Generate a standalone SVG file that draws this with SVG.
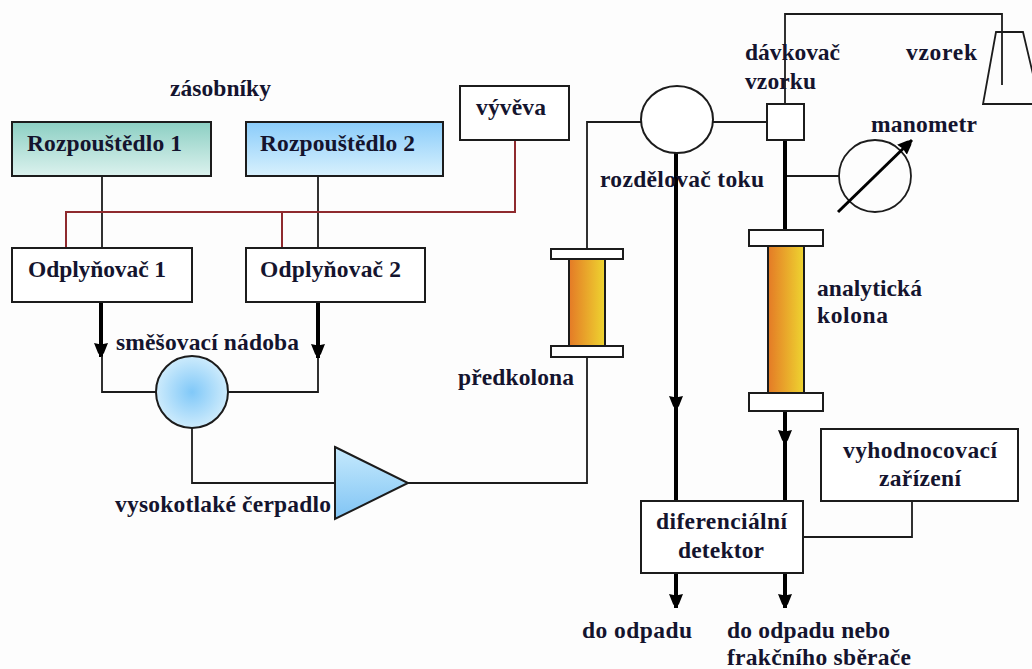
<svg xmlns="http://www.w3.org/2000/svg" width="1032" height="669" viewBox="0 0 1032 669">
<style>
.n{fill:#fff;stroke:#1c1c1c;stroke-width:2}
.c{fill:none;stroke:#1c1c1c;stroke-width:1.8}
.t{fill:none;stroke:#000;stroke-width:4}
.r{fill:none;stroke:#8f2a2e;stroke-width:2}
text{font-family:"Liberation Serif","Times New Roman",serif;font-weight:700;font-size:23.500px;fill:#14142e}
</style>
<defs>
<linearGradient id="g1" x1="0" y1="0" x2="0" y2="1"><stop offset="0" stop-color="#8ccfc3"/><stop offset="1" stop-color="#dcf2ee"/></linearGradient>
<linearGradient id="g2" x1="0" y1="0" x2="0" y2="1"><stop offset="0" stop-color="#8accfa"/><stop offset="1" stop-color="#d8f1fd"/></linearGradient>
<radialGradient id="g3"><stop offset="0" stop-color="#80c8f8"/><stop offset="1" stop-color="#cdebfc"/></radialGradient>
<linearGradient id="g4" x1="0" y1="0" x2="0" y2="1"><stop offset="0" stop-color="#c6eafd"/><stop offset="1" stop-color="#80c4f4"/></linearGradient>
<linearGradient id="g5" x1="0" y1="0" x2="1" y2="0"><stop offset="0" stop-color="#e47a26"/><stop offset="1" stop-color="#eed530"/></linearGradient>
<marker id="a" markerUnits="userSpaceOnUse" markerWidth="16" markerHeight="16" refX="14" refY="7" orient="auto"><path d="M0 0L1.500 7L0 14L10 10L14 7L10 4Z" fill="#000"/></marker>
</defs>
<rect width="1032" height="669" fill="#fdfdfd"/>
<g id="connectors">
<path class="c" d="M102 176V248M318 176V248"/>
<path class="r" d="M66 248V212H515V140M282 248V212"/>
<path class="t" marker-end="url(#a)" d="M101 302V357"/>
<path class="t" marker-end="url(#a)" d="M318 302V358"/>
<path class="c" d="M102 356V392H156M318 358V392H228M192 428V483H335M408 483H587V357M587 249V122H641M713 122H767"/>
<path class="c" d="M785 104V14H1002V85M785 176H839M912 501V537H803"/>
<path class="t" marker-end="url(#a)" d="M676 153V410"/>
<path class="t" d="M676 405V501M785 140V230"/>
<path class="t" marker-end="url(#a)" d="M785 411V444"/>
<path class="t" d="M785 440V501"/>
<path class="t" marker-end="url(#a)" d="M676 573V608"/>
<path class="t" marker-end="url(#a)" d="M785 573V608"/>
</g>
<g id="label-zasobniky"><text x="170" y="96" textLength="101">zásobníky</text></g>
<g id="rozpoustedlo1"><rect class="n" x="12" y="122" width="199" height="54" style="fill:url(#g1)"/><text x="27" y="151" textLength="155">Rozpouštědlo 1</text></g>
<g id="rozpoustedlo2"><rect class="n" x="246" y="122" width="197" height="54" style="fill:url(#g2)"/><text x="260" y="151" textLength="155">Rozpouštědlo 2</text></g>
<g id="vyveva"><rect class="n" x="460" y="86" width="109" height="54"/><text x="476" y="115" textLength="70">vývěva</text></g>
<g id="odplynovac1"><rect class="n" x="12" y="248" width="180" height="54"/><text x="28" y="277" textLength="138">Odplyňovač 1</text></g>
<g id="odplynovac2"><rect class="n" x="246" y="248" width="179" height="54"/><text x="260" y="277" textLength="141">Odplyňovač 2</text></g>
<g id="smesovaci-nadoba"><circle class="n" cx="192" cy="392" r="36" style="fill:url(#g3)"/><text x="116" y="350" textLength="183">směšovací nádoba</text></g>
<g id="cerpadlo"><path class="n" d="M335 447L408 483L335 519Z" style="fill:url(#g4)"/><text x="115" y="512" textLength="216">vysokotlaké čerpadlo</text></g>
<g id="predkolona"><rect class="n" x="569" y="259" width="36" height="87" style="fill:url(#g5)"/><rect class="n" x="551" y="249" width="72" height="10"/><rect class="n" x="551" y="346" width="72" height="11"/><text x="458" y="385" textLength="116">předkolona</text></g>
<g id="rozdelovac"><ellipse class="n" cx="677" cy="119.500" rx="36" ry="33.500"/><text x="600" y="187" textLength="164">rozdělovač toku</text></g>
<g id="davkovac"><rect class="n" x="767" y="104" width="37" height="36"/><text x="745" y="60" textLength="95">dávkovač</text><text x="745" y="89" textLength="71">vzorku</text></g>
<g id="vzorek"><path class="c" d="M996 32H1023L1040 104H983Z"/><text x="906" y="60" textLength="71">vzorek</text></g>
<g id="manometr"><circle class="c" cx="875" cy="176" r="36"/><path style="fill:none;stroke:#000;stroke-width:3" marker-end="url(#a)" d="M838 212L912 140"/><text x="871" y="132" textLength="106">manometr</text></g>
<g id="analyticka-kolona"><rect class="n" x="768" y="246" width="36" height="147" style="fill:url(#g5)"/><rect class="n" x="749" y="230" width="74" height="16"/><rect class="n" x="749" y="393" width="74" height="18"/><text x="817" y="296" textLength="105">analytická</text><text x="817" y="323" textLength="71">kolona</text></g>
<g id="vyhodnocovaci"><rect class="n" x="821" y="429" width="197" height="72"/><text x="843" y="458" textLength="154">vyhodnocovací</text><text x="879" y="486" textLength="82">zařízení</text></g>
<g id="detektor"><rect class="n" x="641" y="501" width="162" height="72"/><text x="656" y="529" textLength="131">diferenciální</text><text x="678" y="558" textLength="86">detektor</text></g>
<g id="odpad1"><text x="582" y="638" textLength="110">do odpadu</text></g>
<g id="odpad2"><text x="727" y="638" textLength="163">do odpadu nebo</text><text x="727" y="665" textLength="184">frakčního sběrače</text></g>
</svg>
